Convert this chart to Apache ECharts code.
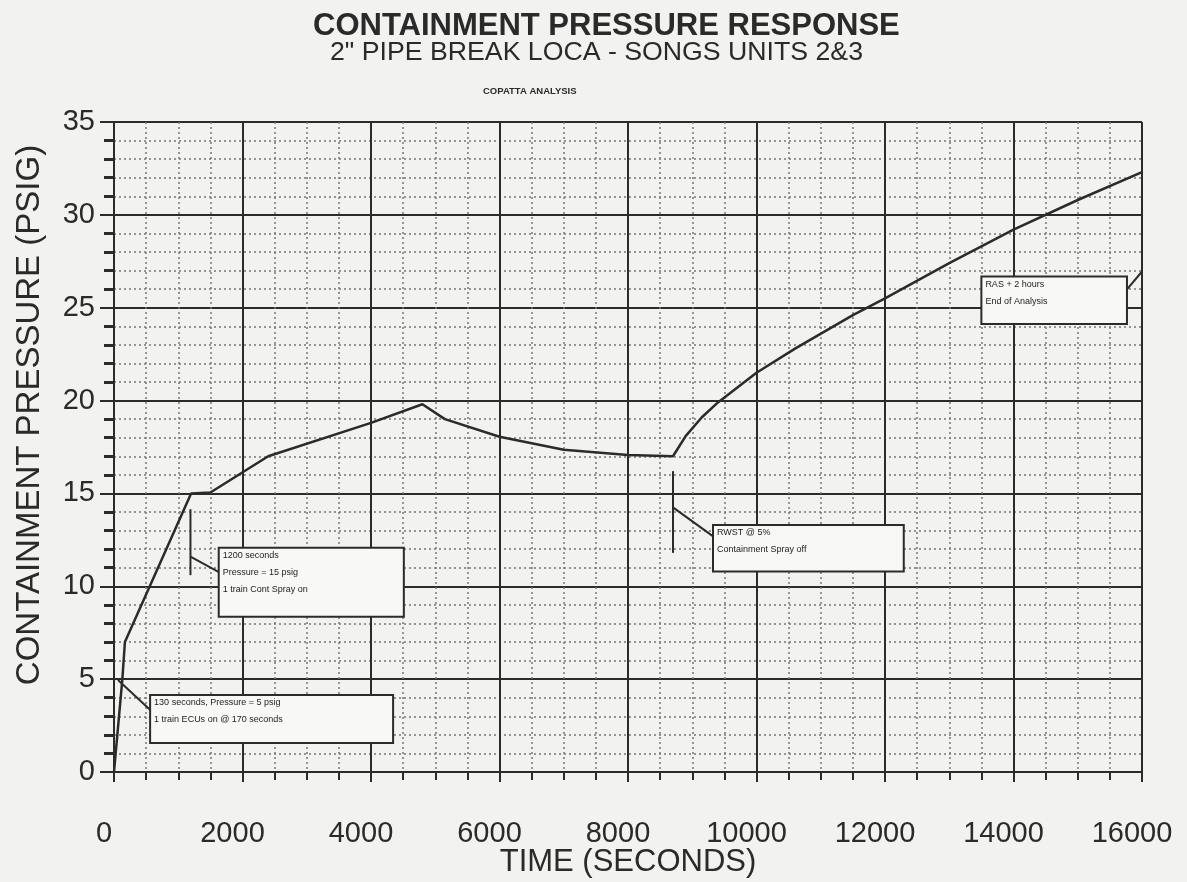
<!DOCTYPE html>
<html>
<head>
<meta charset="utf-8">
<title>Containment Pressure Response</title>
<script src="https://cdn.jsdelivr.net/npm/echarts@6/dist/echarts.min.js"></script>
<style>
    html, body { margin: 0; padding: 0; background: #f2f2f0; }
    #chart { width: 1187px; height: 882px; }
</style>
</head>
<body>
<div id="chart"></div>
<script>
// 压力曲线 (time in seconds, pressure in psig)
var timeSec = [0, 130, 170, 1200, 1500, 2400, 4000, 4800, 5150, 6000, 7000, 8000, 8700, 8900, 9150, 9400, 10000, 10600, 11500, 12000, 13000, 14000, 15000, 16000];
var pressure = [0, 5, 7, 15, 15.05, 17, 18.8, 19.8, 19.0, 18.05, 17.35, 17.07, 17.0, 18.1, 19.1, 19.9, 21.5, 22.8, 24.6, 25.5, 27.4, 29.2, 30.8, 32.3];

// 标注引线
var leaderEcu = [[62, 4.95], [560, 3.35]];
var leaderSprayOnBar = [[1190, 14.15], [1190, 10.6]];
var leaderSprayOn = [[1190, 11.6], [1640, 10.75]];
var leaderRwstBar = [[8700, 16.2], [8700, 11.8]];
var leaderRwst = [[8700, 14.25], [9320, 12.7]];
var leaderRas = [[15770, 26], [16000, 26.95]];

// 标注框 [x0, yBottom, x1, yTop]
var noteBoxes = [
    [562, 1.56, 4344, 4.15],
    [1630, 8.36, 4511, 12.08],
    [9323, 10.79, 12292, 13.3],
    [13500, 24.12, 15766, 26.68]
];
var noteTexts = [
    ['130 seconds, Pressure = 5 psig', '1 train ECUs on @ 170 seconds'],
    ['1200 seconds', 'Pressure = 15 psig', '1 train Cont Spray on'],
    ['RWST @ 5%', 'Containment Spray off'],
    ['RAS + 2 hours', 'End of Analysis']
];

var xTicks = { min: 0, max: 16000, step: 2000 };
var yTicks = { min: 0, max: 35, step: 5 };

var ink = '#2b2b2b';
var fontFam = '"Liberation Sans", Arial, sans-serif';

function pairs(xs, ys) {
    var out = [];
    for (var i = 0; i < xs.length; i++) {
        out.push([xs[i], ys[i]]);
    }
    return out;
}

function leaderSeries(pts) {
    return {
        type: 'line',
        data: pts,
        showSymbol: false,
        silent: true,
        z: 4,
        lineStyle: { color: ink, width: 2 }
    };
}

//画标注框
function renderNote(params, api) {
    var p0 = api.coord([api.value(0), api.value(3)]);
    var p1 = api.coord([api.value(2), api.value(1)]);
    var lines = noteTexts[params.dataIndex];
    var children = [{
        type: 'rect',
        shape: { x: p0[0], y: p0[1], width: p1[0] - p0[0], height: p1[1] - p0[1] },
        style: { fill: '#f8f8f7', stroke: ink, lineWidth: 2 }
    }];
    for (var i = 0; i < lines.length; i++) {
        children.push({
            type: 'text',
            style: {
                x: p0[0] + 4,
                y: p0[1] + 8 + i * 17,
                text: lines[i],
                fill: '#222',
                font: '9px ' + fontFam,
                verticalAlign: 'middle'
            }
        });
    }
    return { type: 'group', children: children };
}

var chart = echarts.init(document.getElementById('chart'));

var option = {
    backgroundColor: '#f2f2f0',
    animation: false,
    title: [{
        text: 'CONTAINMENT PRESSURE RESPONSE',
        left: 308, top: 6,
        textStyle: { fontFamily: fontFam, fontSize: 31, fontWeight: 'bold', color: '#2a2a2a' }
    }, {
        text: '2" PIPE BREAK LOCA - SONGS UNITS 2&3',
        left: 325, top: 34,
        textStyle: { fontFamily: fontFam, fontSize: 26.7, fontWeight: 'normal', color: '#2a2a2a' }
    }, {
        text: 'COPATTA ANALYSIS',
        left: 478, top: 81,
        textStyle: { fontFamily: fontFam, fontSize: 9.5, fontWeight: 'bold', color: '#2a2a2a' }
    }],
    grid: { left: 114, right: 45, top: 122, bottom: 110, containLabel: false, outerBoundsMode: 'none' },
    xAxis: {
        type: 'value',
        min: xTicks.min, max: xTicks.max, interval: xTicks.step,
        name: 'TIME (SECONDS)',
        nameLocation: 'middle',
        nameGap: 75,
        nameMoveOverlap: false,
        nameTextStyle: { fontFamily: fontFam, fontSize: 31, color: '#2a2a2a' },
        axisLine: { lineStyle: { color: ink, width: 2 } },
        axisTick: { show: true, length: 10, lineStyle: { color: ink, width: 2 } },
        minorTick: { show: true, splitNumber: 4, length: 8, lineStyle: { color: ink, width: 2 } },
        axisLabel: {
            margin: 47, fontFamily: fontFam, fontSize: 29, color: '#2a2a2a',
            padding: [0, 20, 0, 0],
            formatter: function(v) { return String(v); }
        },
        splitLine: { show: true, lineStyle: { color: ink, width: 2 } },
        minorSplitLine: { show: true, lineStyle: { color: '#777', width: 1.5, type: [2, 3] } }
    },
    yAxis: {
        type: 'value',
        min: yTicks.min, max: yTicks.max, interval: yTicks.step,
        name: 'CONTAINMENT PRESSURE (PSIG)',
        nameLocation: 'middle',
        nameGap: 68,
        nameMoveOverlap: false,
        nameTextStyle: { fontFamily: fontFam, fontSize: 33, color: '#2a2a2a', padding: [0, 0, 0, 64] },
        axisLine: { show: true, lineStyle: { color: ink, width: 2 } },
        axisTick: { show: true, length: 14, lineStyle: { color: ink, width: 2 } },
        minorTick: { show: true, splitNumber: 5, length: 10, lineStyle: { color: ink, width: 3 } },
        axisLabel: { margin: 19, fontFamily: fontFam, fontSize: 29, color: '#2a2a2a' },
        splitLine: { show: true, lineStyle: { color: ink, width: 2 } },
        minorSplitLine: { show: true, lineStyle: { color: '#777', width: 1.5, type: [2, 3] } }
    },
    series: [{
        name: 'pressure',
        type: 'line',
        data: pairs(timeSec, pressure),
        showSymbol: false,
        z: 5,
        lineStyle: { color: ink, width: 2.5 }
    },
        leaderSeries(leaderEcu),
        leaderSeries(leaderSprayOnBar),
        leaderSeries(leaderSprayOn),
        leaderSeries(leaderRwstBar),
        leaderSeries(leaderRwst),
        leaderSeries(leaderRas),
    {
        type: 'custom',
        renderItem: renderNote,
        data: noteBoxes,
        encode: { x: [0, 2], y: [1, 3] },
        clip: false,
        silent: true,
        z: 6
    }]
};

chart.setOption(option);
</script>
</body>
</html>
